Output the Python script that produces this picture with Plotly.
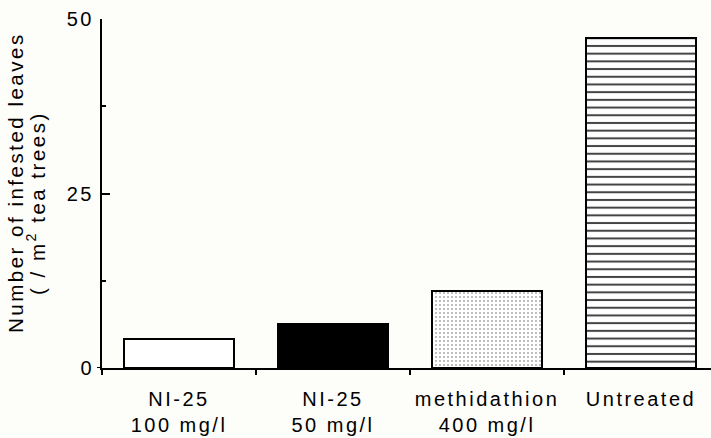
import plotly.graph_objects as go

categories = ["NI-25<br>100 mg/l", "NI-25<br>50 mg/l", "methidathion<br>400 mg/l", "Untreated"]
values = [4.2, 6.3, 11.1, 47.3]
y_ticks = [0, 25, 50]
y_minor = [12.5, 37.5]
y_title_1 = "Number of infested leaves"
y_title_2 = "( / m<sup>2</sup> tea trees)"

LS = "letter-spacing:2.5px"
FONT = "Liberation Sans, Arial, sans-serif"


def spaced(s):
    return "<br>".join(f'<span style="{LS}">{p}</span>' for p in s.split("<br>"))


W, H = 711, 438
ML, MR, MT, MB = 102, 0, 19, 70
PW = W - ML - MR
PH = H - MT - MB

fig = go.Figure()
fig.add_trace(go.Bar(
    x=categories,
    y=values,
    width=0.72,
    marker=dict(
        color=["white", "black", "white", "white"],
        line=dict(color="black", width=2),
        pattern=dict(
            shape=["", "", ".", "-"],
            fgcolor=["black", "black", "#eeeeee", "black"],
            fgopacity=1,
            size=[8, 8, 4, 7.7],
            solidity=[0.2, 0.2, 0.08, 0.26],
            fillmode="overlay",
        ),
    ),
    showlegend=False,
))

fig.update_layout(
    width=W, height=H,
    margin=dict(l=ML, r=MR, t=MT, b=MB, pad=0, autoexpand=False),
    paper_bgcolor="#fdfdf9",
    plot_bgcolor="#fdfdf9",
    font=dict(family=FONT, size=20, color="black"),
    bargap=0,
)

fig.update_xaxes(
    type="category",
    range=[-0.5, -0.5 + PW / 154.0],
    tickson="boundaries",
    ticks="outside", ticklen=5, tickwidth=1.5, tickcolor="black",
    showline=True, linecolor="black", linewidth=2,
    showgrid=False, zeroline=False,
    tickvals=categories,
    ticktext=[spaced(c) for c in categories],
    tickangle=0,
    automargin=False,
    tickfont=dict(family=FONT, size=20, color="black"),
    ticklabelstandoff=12,
)

fig.update_yaxes(
    range=[0, 50],
    tickvals=y_ticks,
    ticktext=[spaced(str(v)) for v in y_ticks],
    ticks="inside", ticklen=8, tickwidth=2, tickcolor="black",
    minor=dict(tickvals=y_minor, ticks="inside", ticklen=4, tickwidth=1.5, tickcolor="black"),
    showline=True, linecolor="black", linewidth=2,
    showgrid=False, zeroline=False,
    automargin=False,
    tickfont=dict(family=FONT, size=20, color="black"),
    ticklabelstandoff=2,
)

# short extension of the baseline to the left of the y axis
fig.add_shape(type="line", xref="paper", yref="y", x0=-5 / PW, x1=0, y0=0, y1=0,
              line=dict(color="black", width=2))

fig.add_annotation(
    text=spaced(y_title_1), xref="paper", yref="paper",
    x=0, xshift=16 - ML, y=(H - MB - 183) / PH,
    xanchor="center", yanchor="middle", textangle=-90, showarrow=False,
    font=dict(family=FONT, size=20.5, color="black"),
)
fig.add_annotation(
    text=spaced(y_title_2), xref="paper", yref="paper",
    x=0, xshift=36 - ML, y=(H - MB - 203) / PH,
    xanchor="center", yanchor="middle", textangle=-90, showarrow=False,
    font=dict(family=FONT, size=20.5, color="black"),
)

fig.write_html("out.html", config={"displayModeBar": False},
               post_script="document.body.style.margin='0';")
